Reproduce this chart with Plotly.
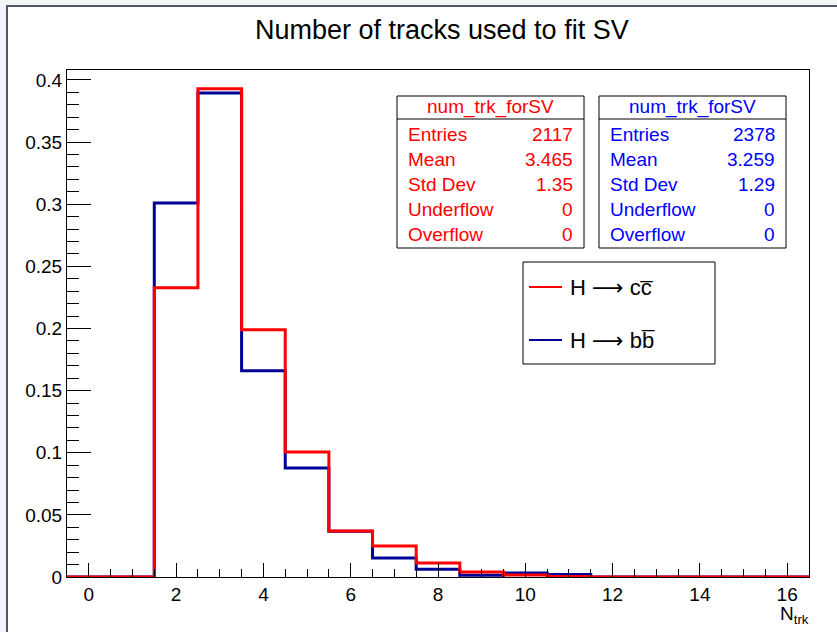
import plotly.graph_objects as go

# Normalised track-multiplicity distributions (one value per integer bin, 0..16)
n_trk = list(range(0, 17))
h_cc = [0, 0, 0.2327, 0.3929, 0.1990, 0.1006, 0.0370, 0.0250, 0.0113,
        0.0040, 0.0016, 0.0005, 0, 0, 0, 0, 0]
h_bb = [0, 0, 0.3010, 0.3895, 0.1660, 0.0878, 0.0369, 0.0153, 0.0062,
        0.0014, 0.0032, 0.0020, 0, 0, 0, 0, 0]

# Stats box contents
stat_names = ["Entries", "Mean", "Std Dev", "Underflow", "Overflow"]
stats_cc = ["2117", "3.465", "1.35", "0", "0"]
stats_bb = ["2378", "3.259", "1.29", "0", "0"]
hist_name = "num_trk_forSV"

ARROW = '<span style="font-family:DejaVu Sans">\u27f6</span>'
legend_labels = ["H " + ARROW + " cc\u0305", "H " + ARROW + " bb\u0305"]
title_text = "Number of tracks used to fit SV"

RED = "#ff0000"
BLUE = "#000099"
STAT_BLUE = "#0000ff"
FONT = "Liberation Sans, Arial, Helvetica, sans-serif"

W, H = 837, 632
L, R, T, B = 67, 809, 70, 577  # plot frame in pixels


def xp(px):
    return (px - L) / (R - L)


def yp(py):
    return 1 - (py - T) / (B - T)


def edges_of(centers):
    return [c - 0.5 for c in centers] + [centers[-1] + 0.5]


fig = go.Figure()
for vals, col in [(h_bb, BLUE), (h_cc, RED)]:
    fig.add_trace(go.Scatter(
        x=edges_of(n_trk), y=vals + [vals[-1]], mode="lines",
        line=dict(color=col, width=3, shape="hv"),
        showlegend=False, hoverinfo="skip", cliponaxis=False,
    ))

shapes = []
annotations = []

# canvas surround and border
shapes.append(dict(type="rect", xref="paper", yref="paper", x0=xp(0), x1=xp(W),
                   y0=yp(0), y1=yp(5), fillcolor="#f3f4f7", line_width=0, layer="below"))
shapes.append(dict(type="rect", xref="paper", yref="paper", x0=xp(0), x1=xp(6),
                   y0=yp(0), y1=yp(H), fillcolor="#f3f4f7", line_width=0, layer="below"))
shapes.append(dict(type="line", xref="paper", yref="paper", x0=xp(6), x1=xp(W),
                   y0=yp(6), y1=yp(6), line=dict(color="#4d5566", width=2)))
shapes.append(dict(type="line", xref="paper", yref="paper", x0=xp(7), x1=xp(7),
                   y0=yp(6), y1=yp(H), line=dict(color="#4d5566", width=2)))

# stats boxes
box_specs = [(397, 584, stats_cc, RED), (599, 786, stats_bb, STAT_BLUE)]
box_top, box_sep, box_bot = 96, 119, 248
row_y = [134, 159, 184, 209, 234]
for x0, x1, vals, col in box_specs:
    shapes.append(dict(type="rect", xref="paper", yref="paper",
                       x0=xp(x0), x1=xp(x1), y0=yp(box_bot), y1=yp(box_top),
                       fillcolor="white", line=dict(color="black", width=1)))
    shapes.append(dict(type="line", xref="paper", yref="paper",
                       x0=xp(x0), x1=xp(x1), y0=yp(box_sep), y1=yp(box_sep),
                       line=dict(color="black", width=1)))
    annotations.append(dict(text=hist_name, xref="paper", yref="paper",
                            x=xp((x0 + x1) / 2), y=yp(107), xanchor="center",
                            yanchor="middle", showarrow=False,
                            font=dict(family=FONT, size=19, color=col)))
    for name, v, ry in zip(stat_names, vals, row_y):
        annotations.append(dict(text=name, xref="paper", yref="paper",
                                x=xp(x0 + 9), y=yp(ry), xanchor="left",
                                yanchor="middle", showarrow=False,
                                font=dict(family=FONT, size=19, color=col)))
        annotations.append(dict(text=v, xref="paper", yref="paper",
                                x=xp(x1 - 9), y=yp(ry), xanchor="right",
                                yanchor="middle", showarrow=False,
                                font=dict(family=FONT, size=19, color=col)))

# legend
shapes.append(dict(type="rect", xref="paper", yref="paper",
                   x0=xp(523), x1=xp(715), y0=yp(364), y1=yp(262),
                   fillcolor="white", line=dict(color="black", width=1)))
for lab, col, ly in zip(legend_labels, [RED, BLUE], [287, 340]):
    shapes.append(dict(type="line", xref="paper", yref="paper",
                       x0=xp(529), x1=xp(562), y0=yp(ly), y1=yp(ly),
                       line=dict(color=col, width=2)))
    annotations.append(dict(text=lab, xref="paper", yref="paper",
                            x=xp(568), y=yp(ly), xanchor="left", yanchor="middle",
                            showarrow=False,
                            font=dict(family=FONT, size=22, color="black")))

# title and x-axis label
annotations.append(dict(text=title_text, xref="paper", yref="paper",
                        x=xp(442), y=yp(30), xanchor="center", yanchor="middle",
                        showarrow=False, font=dict(family=FONT, size=27, color="black")))
annotations.append(dict(text="N<sub>trk</sub>", xref="paper", yref="paper",
                        x=xp(811), y=yp(615), xanchor="right", yanchor="middle",
                        showarrow=False, font=dict(family=FONT, size=19, color="black")))

fig.update_layout(
    width=W, height=H,
    margin=dict(l=L, r=W - R, t=T, b=H - B, pad=0),
    paper_bgcolor="white", plot_bgcolor="white",
    shapes=shapes, annotations=annotations,
    font=dict(family=FONT, size=19, color="black"),
    xaxis=dict(range=[-0.5, 16.5], tickmode="linear", tick0=0, dtick=2,
               ticks="inside", ticklen=14, tickwidth=1, tickcolor="black",
               minor=dict(ticks="inside", dtick=0.5, tick0=0, ticklen=8,
                          tickcolor="black", tickwidth=1, showgrid=False),
               showgrid=False, zeroline=False, showline=True, linecolor="black",
               linewidth=1, mirror=True, tickfont=dict(family=FONT, size=19),
               fixedrange=True),
    yaxis=dict(range=[0, 0.408], tickmode="linear", tick0=0, dtick=0.05,
               ticks="inside", ticklen=24, tickwidth=1, tickcolor="black",
               minor=dict(ticks="inside", dtick=0.01, tick0=0, ticklen=12,
                          tickcolor="black", tickwidth=1, showgrid=False),
               showgrid=False, zeroline=False, showline=True, linecolor="black",
               linewidth=1, mirror=True, tickfont=dict(family=FONT, size=19),
               tickformat="~g", fixedrange=True),
)

fig.write_html("out.html")
